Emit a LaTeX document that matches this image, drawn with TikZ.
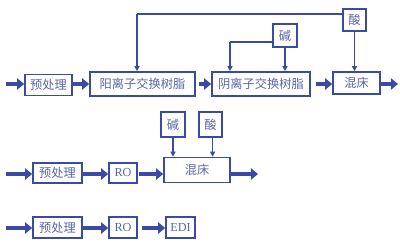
\documentclass[tikz,border=0pt]{standalone}
\usepackage{fontspec}
\setmainfont{Liberation Serif}
\newfontfamily\cjk{Noto Sans CJK SC}
\usepackage{tikz}
\usetikzlibrary{arrows.meta}
\definecolor{linecol}{RGB}{59,75,165}
\definecolor{txtcol}{RGB}{88,102,168}
\tikzset{
  unit/.style={draw=linecol, line width=1.2pt, text=txtcol, inner sep=0pt,
    font=\fontsize{8.7}{10}\selectfont\cjk},
  latin/.style={font=\fontsize{8.7}{10}\selectfont},
  flow/.style={draw=linecol, line width=3.5pt,
    -{Triangle[length=5pt,width=8pt]}},
  feed/.style={draw=linecol, line width=1pt,
    -{Triangle[length=3.5pt,width=3.5pt]}},
  pipe/.style={draw=linecol, line width=1pt}
}
\begin{document}
\begin{tikzpicture}[x=0.025cm, y=-0.025cm]
\useasboundingbox (0,0) rectangle (400,243);
\draw(48.5,85) node[unit, minimum width=1.175cm, minimum height=0.525cm] (pre1) {预处理};
\draw(142.5,84) node[unit, minimum width=2.625cm, minimum height=0.6cm] (cat) {阳离子交换树脂};
\draw(261,84) node[unit, minimum width=2.45cm, minimum height=0.6cm] (an) {阴离子交换树脂};
\draw(356.5,83) node[unit, minimum width=1.175cm, minimum height=0.55cm] (mix1) {混床};
\draw(354.5,20) node[unit, minimum width=0.575cm, minimum height=0.55cm] (acid1) {酸};
\draw(285,35.5) node[unit, minimum width=0.6cm, minimum height=0.575cm] (base1) {碱};
\coordinate (in1) at (6,84);
\coordinate (out1) at (398,84);
\coordinate (top) at (137,14);
\coordinate (bl) at (230,42);
\draw[flow] (in1) -- (in1 -| pre1.west);
\draw[flow] (pre1.east |- in1) -- (cat.west |- in1);
\draw[flow, shorten <=2pt] (cat.east |- in1) -- (an.west |- in1);
\draw[flow, shorten <=4pt] (an.east |- in1) -- (mix1.west |- in1);
\draw[flow] (mix1.east |- in1) -- (out1);
\draw[pipe] (acid1.west |- top) -- (top);
\draw[feed] (top) -- (top |- cat.north);
\draw[pipe] (base1.west |- bl) -- (bl);
\draw[feed] (bl) -- (bl |- an.north);
\draw[feed] (base1.south) -- (base1.south |- an.north);
\draw[feed] (acid1.south) -- (acid1.south |- mix1.north);

\draw(57.5,173) node[unit, minimum width=1.225cm, minimum height=0.5cm] (pre2) {预处理};
\draw(123,173) node[unit, latin, minimum width=0.7cm, minimum height=0.5cm] (ro2) {RO};
\draw(197,170) node[unit, minimum width=1.65cm, minimum height=0.625cm] (mix2) {混床};
\draw(173,124.5) node[unit, minimum width=0.6cm, minimum height=0.625cm] (base2) {碱};
\draw(210.5,124.5) node[unit, minimum width=0.575cm, minimum height=0.625cm] (acid2) {酸};
\coordinate (in2) at (6,174);
\coordinate (out2) at (258,174);
\draw[flow] (in2) -- (in2 -| pre2.west);
\draw[flow] (pre2.east |- in2) -- (ro2.west |- in2);
\draw[flow, shorten <=1pt] (ro2.east |- in2) -- (mix2.west |- in2);
\draw[flow] (mix2.east |- in2) -- (out2);
\draw[feed] (base2.south) -- (base2.south |- mix2.north);
\draw[feed] ([xshift=1.5pt]acid2.south) -- ([xshift=1.5pt]acid2.south |- mix2.north);

\draw(57.5,227.5) node[unit, minimum width=1.225cm, minimum height=0.525cm] (pre3) {预处理};
\draw(123,227.5) node[unit, latin, minimum width=0.7cm, minimum height=0.525cm] (ro3) {RO};
\draw(180.5,227.5) node[unit, latin, minimum width=0.725cm, minimum height=0.525cm] (edi3) {EDI};
\coordinate (in3) at (6,228);
\draw[flow] (in3) -- (in3 -| pre3.west);
\draw[flow] (pre3.east |- in3) -- (ro3.west |- in3);
\draw[flow, shorten <=3pt] (ro3.east |- in3) -- (edi3.west |- in3);
\end{tikzpicture}
\end{document}
